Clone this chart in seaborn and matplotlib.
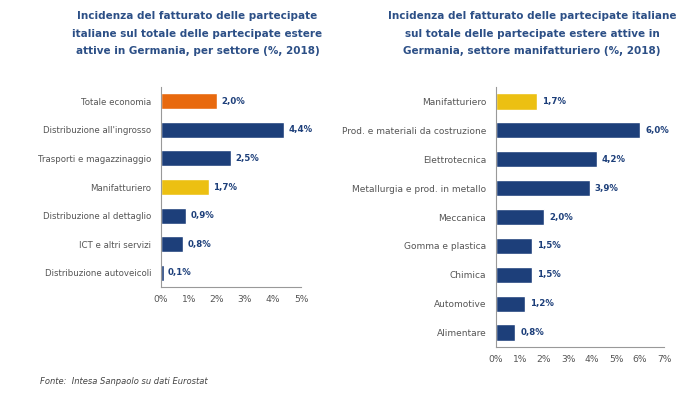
import matplotlib
matplotlib.use("Agg")
import matplotlib.pyplot as plt
from matplotlib.ticker import FuncFormatter
import pandas as pd
import seaborn as sns

# Data
sectors = ["Totale economia", "Distribuzione all'ingrosso", "Trasporti e magazzinaggio",
           "Manifatturiero", "Distribuzione al dettaglio", "ICT e altri servizi",
           "Distribuzione autoveicoli"]
sector_values = [2.0, 4.4, 2.5, 1.7, 0.9, 0.8, 0.1]

manuf = ["Manifatturiero", "Prod. e materiali da costruzione", "Elettrotecnica",
         "Metallurgia e prod. in metallo", "Meccanica", "Gomma e plastica",
         "Chimica", "Automotive", "Alimentare"]
manuf_values = [1.7, 6.0, 4.2, 3.9, 2.0, 1.5, 1.5, 1.2, 0.8]

NAVY = "#1d3f7a"
ORANGE = "#e8690e"
YELLOW = "#ecc012"
GREY = "#555555"
TITLE = "#2c4f86"

sns.set_theme(style="white")
plt.rcParams["font.family"] = ["DejaVu Sans"]

fig = plt.figure(figsize=(7, 3.95), dpi=100)


def draw(ax, cats, vals, colors, xmax, labsize):
    df = pd.DataFrame({"cat": cats, "val": vals})
    sns.barplot(data=df, y="cat", x="val", hue="cat", palette=colors, legend=False,
                orient="h", width=0.56, ax=ax, saturation=1)
    for i, v in enumerate(vals):
        ax.text(v + xmax * 0.03, i, f"{v:.1f}%".replace(".", ","), va="center", ha="left",
                fontsize=6.2, color=NAVY, fontweight="bold")
    ax.set_xlim(0, xmax)
    ax.set_xticks(range(0, xmax + 1))
    ax.xaxis.set_major_formatter(FuncFormatter(lambda x, p: f"{int(x)}%"))
    ax.set_xlabel("")
    ax.set_ylabel("")
    for s in ["top", "right"]:
        ax.spines[s].set_visible(False)
    for s in ["left", "bottom"]:
        ax.spines[s].set_color("#999999")
        ax.spines[s].set_linewidth(0.8)
    ax.tick_params(axis="x", length=3, width=0.6, color="#999999", labelsize=6.6,
                   labelcolor=GREY, pad=3)
    ax.tick_params(axis="y", length=0, labelsize=labsize, labelcolor=GREY, pad=7)


ax1 = fig.add_axes([0.23, 0.2734, 0.2, 0.5063])
colors1 = [ORANGE, NAVY, NAVY, YELLOW, NAVY, NAVY, NAVY]
draw(ax1, sectors, sector_values, colors1, 5, 6.2)

ax2 = fig.add_axes([0.7086, 0.1215, 0.24, 0.6582])
colors2 = [YELLOW] + [NAVY] * 8
draw(ax2, manuf, manuf_values, colors2, 7, 6.5)

fig.text(0.282, 0.972, "Incidenza del fatturato delle partecipate\n"
         "italiane sul totale delle partecipate estere\n"
         "attive in Germania, per settore (%, 2018)",
         ha="center", va="top", fontsize=7.5, fontweight="bold", color=TITLE,
         linespacing=1.95)
fig.text(0.76, 0.972, "Incidenza del fatturato delle partecipate italiane\n"
         "sul totale delle partecipate estere attive in\n"
         "Germania, settore manifatturiero (%, 2018)",
         ha="center", va="top", fontsize=7.5, fontweight="bold", color=TITLE,
         linespacing=1.95)
fig.text(0.057, 0.033, "Fonte:  Intesa Sanpaolo su dati Eurostat", ha="left",
         va="center", fontsize=6, style="italic", color="#444444")

fig.savefig("out.png", dpi=100)
